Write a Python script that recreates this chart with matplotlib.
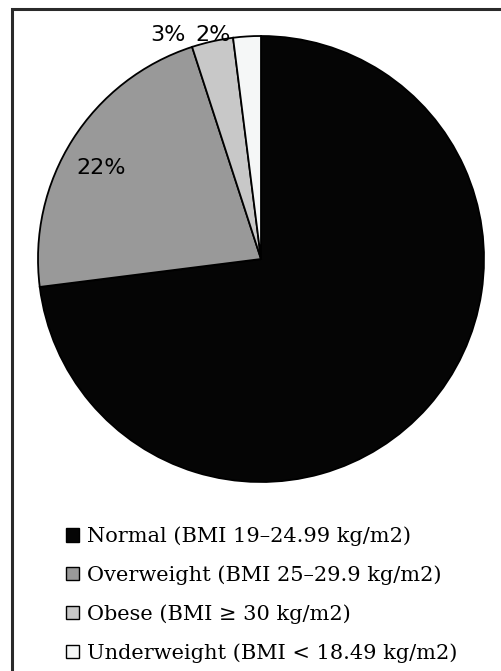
import numpy as np
import matplotlib.pyplot as plt
from matplotlib.patches import Patch, Rectangle

# BMI categories and share of participants (%)
categories = ["Normal (BMI 19\u201324.99 kg/m2)",
              "Overweight (BMI 25\u201329.9 kg/m2)",
              "Obese (BMI \u2265 30 kg/m2)",
              "Underweight (BMI < 18.49 kg/m2)"]
shares = [73, 22, 3, 2]
colors = ["#050505", "#999999", "#c8c8c8", "#f5f7f7"]

# label placement: radius and angle shift (deg) from each wedge's middle
label_radius = [0.8, 0.825, 1.087, 1.027]
label_shift = [0, 2.8, 10, 8.5]

plt.rcParams['font.family'] = ['DejaVu Serif']

W, H = 502, 671
fig = plt.figure(figsize=(W / 100, H / 100), dpi=100)

# outer frame (runs off the right and bottom edges)
fig.patches.append(Rectangle((12 / W, -0.05), 1.1, 1.05 - 9.5 / H,
                             transform=fig.transFigure, fill=False,
                             edgecolor="#2a2a2a", linewidth=2.2))

cx, cy, r = 261, 259, 223
ax = fig.add_axes([(cx - r) / W, (H - cy - r) / H, 2 * r / W, 2 * r / H])
wedges, _ = ax.pie(shares, colors=colors, startangle=90, counterclock=False,
                   radius=1, wedgeprops=dict(edgecolor="black", linewidth=1.3))
ax.set_xlim(-1, 1)
ax.set_ylim(-1, 1)
ax.set_aspect("equal")
ax.axis("off")

for i, (w, val, rad, sh) in enumerate(zip(wedges, shares, label_radius, label_shift)):
    mid = np.deg2rad((w.theta1 + w.theta2) / 2 + sh)
    # the label inside the black wedge is black as well
    col = colors[0] if i == 0 else "black"
    ax.text(rad * np.cos(mid), rad * np.sin(mid), f"{val}%",
            ha="center", va="center", fontsize=16, color=col,
            family=["DejaVu Sans"], clip_on=False)

handles = [Patch(facecolor=c, edgecolor="black", linewidth=1) for c in colors]
fig.legend(handles, categories, loc="upper left",
           bbox_to_anchor=(56 / W, 1 - 516 / H), frameon=False,
           fontsize=15, handlelength=0.62, handleheight=0.62,
           handletextpad=0.35, labelspacing=0.92, borderpad=0)

fig.savefig("out.png", dpi=100)
